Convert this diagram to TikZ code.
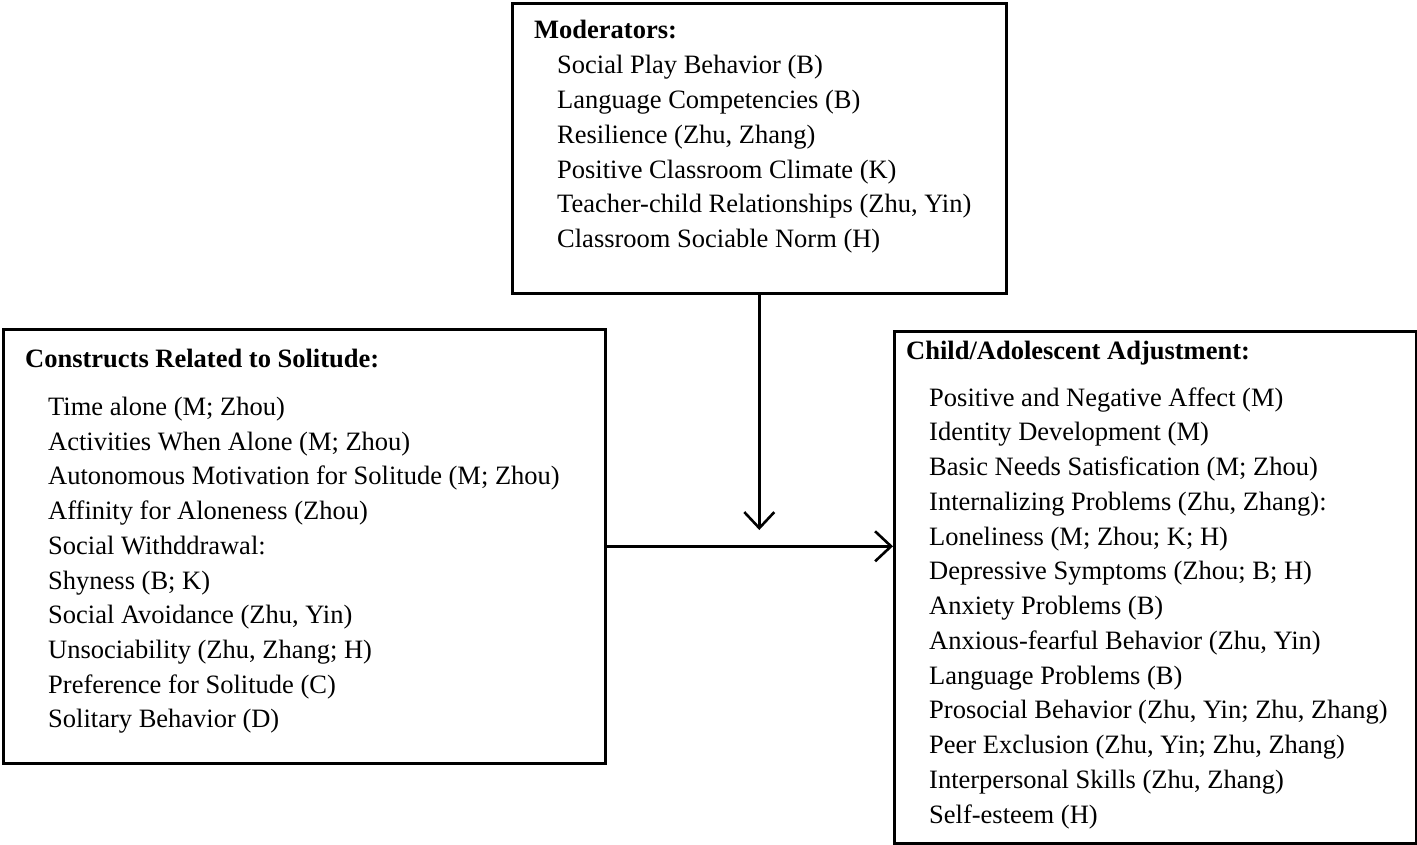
\documentclass[tikz,border=0pt]{standalone}
\usepackage{fontspec}
\setmainfont{Liberation Serif}
\usetikzlibrary{arrows.meta}
\tikzset{
  box/.style={draw=black, line width=2.6pt, rectangle, inner sep=0pt},
  txt/.style={anchor=base west, inner sep=0pt, font=\fontsize{26.5}{34}\selectfont},
  hdr/.style={txt, font=\fontsize{26.5}{34}\selectfont\bfseries},
  arr/.style={line width=2.6pt, -{Straight Barb[length=16pt,width=30pt,line width=2.6pt]}}
}
\begin{document}
\begin{tikzpicture}[x=1pt,y=-1pt]
\useasboundingbox (0,0) rectangle (1417,845);
% boxes
\node[box, minimum width=494pt, minimum height=290pt, anchor=north west] (mod) at (511,2) {};
\node[box, minimum width=602pt, minimum height=434pt, anchor=north west] (left) at (2,328) {};
\node[box, minimum width=522pt, minimum height=512pt, anchor=north west] (right) at (893,330) {};
% moderators text
\node[hdr] (mh) at (534,39) {Moderators:};
\node[txt] (m1) at (557,74) {Social Play Behavior (B)};
\node[txt] (m2) at (557,108.7) {Language Competencies (B)};
\node[txt] (m3) at (557,143.4) {Resilience (Zhu, Zhang)};
\node[txt] (m4) at (557,178.1) {Positive Classroom Climate (K)};
\node[txt] (m5) at (557,212.8) {Teacher-child Relationships (Zhu, Yin)};
\node[txt] (m6) at (557,247.5) {Classroom Sociable Norm (H)};
% left text
\node[hdr] (lh) at (25,367.5) {Constructs Related to Solitude:};
\node[txt] (l1) at (48,415.5) {Time alone (M; Zhou)};
\node[txt] (l2) at (48,450.2) {Activities When Alone (M; Zhou)};
\node[txt] (l3) at (48,484.9) {Autonomous Motivation for Solitude (M; Zhou)};
\node[txt] (l4) at (48,519.6) {Affinity for Aloneness (Zhou)};
\node[txt] (l5) at (48,554.3) {Social Withddrawal:};
\node[txt] (l6) at (48,589) {Shyness (B; K)};
\node[txt] (l7) at (48,623.7) {Social Avoidance (Zhu, Yin)};
\node[txt] (l8) at (48,658.4) {Unsociability (Zhu, Zhang; H)};
\node[txt] (l9) at (48,693.1) {Preference for Solitude (C)};
\node[txt] (l10) at (48,727.8) {Solitary Behavior (D)};
% right text
\node[hdr] (rh) at (906,359) {Child/Adolescent Adjustment:};
\node[txt] (r1) at (929,406) {Positive and Negative Affect (M)};
\node[txt] (r2) at (929,440.75) {Identity Development (M)};
\node[txt] (r3) at (929,475.5) {Basic Needs Satisfication (M; Zhou)};
\node[txt] (r4) at (929,510.25) {Internalizing Problems (Zhu, Zhang):};
\node[txt] (r5) at (929,545) {Loneliness (M; Zhou; K; H)};
\node[txt] (r6) at (929,579.75) {Depressive Symptoms (Zhou; B; H)};
\node[txt] (r7) at (929,614.5) {Anxiety Problems (B)};
\node[txt] (r8) at (929,649.25) {Anxious-fearful Behavior (Zhu, Yin)};
\node[txt] (r9) at (929,684) {Language Problems (B)};
\node[txt] (r10) at (929,718.75) {Prosocial Behavior (Zhu, Yin; Zhu, Zhang)};
\node[txt] (r11) at (929,753.5) {Peer Exclusion (Zhu, Yin; Zhu, Zhang)};
\node[txt] (r12) at (929,788.25) {Interpersonal Skills (Zhu, Zhang)};
\node[txt] (r13) at (929,823) {Self-esteem (H)};
% arrows
\coordinate (tip) at (mod.south |- 0,530);
\draw[arr] (mod.south) -- (tip);
\draw[arr] (left.east) -- (left.east -| right.west);
\end{tikzpicture}
\end{document}
